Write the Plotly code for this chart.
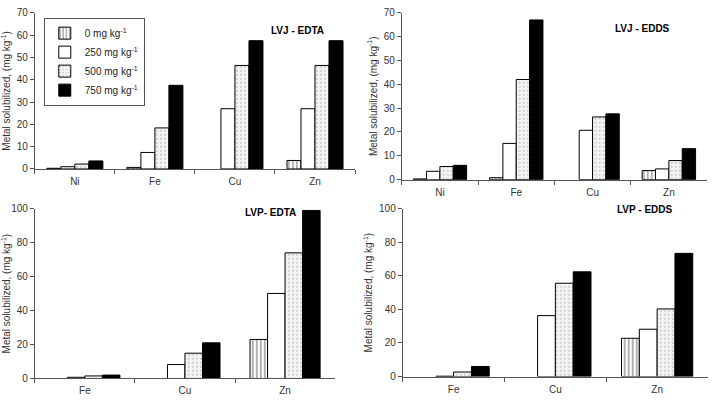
import plotly.graph_objects as go

dose_labels = ["0 mg kg<sup>-1</sup>", "250 mg kg<sup>-1</sup>",
               "500 mg kg<sup>-1</sup>", "750 mg kg<sup>-1</sup>"]

cats_lvj = ["Ni", "Fe", "Cu", "Zn"]
cats_lvp = ["Fe", "Cu", "Zn"]

# LVJ - EDTA
lvj_edta_0 = [0.3, 0.7, None, 3.8]
lvj_edta_250 = [1.0, 7.4, 27.0, 27.0]
lvj_edta_500 = [2.2, 18.4, 46.4, 46.4]
lvj_edta_750 = [3.6, 37.5, 57.5, 57.5]

# LVJ - EDDS
lvj_edds_0 = [0.3, 0.8, None, 3.8]
lvj_edds_250 = [3.5, 15.2, 20.7, 4.5]
lvj_edds_500 = [5.5, 42.0, 26.3, 8.0]
lvj_edds_750 = [6.0, 67.0, 27.6, 13.0]

# LVP - EDTA
lvp_edta_0 = [None, None, 23.0]
lvp_edta_250 = [0.7, 8.2, 50.1]
lvp_edta_500 = [1.5, 14.9, 74.0]
lvp_edta_750 = [2.0, 21.0, 99.0]

# LVP - EDDS
lvp_edds_0 = [None, None, 22.8]
lvp_edds_250 = [0.2, 36.3, 28.2]
lvp_edds_500 = [2.7, 55.6, 40.3]
lvp_edds_750 = [6.0, 62.4, 73.4]

panel_titles = ["<b>LVJ - EDTA</b>", "<b>LVJ - EDDS</b>", "<b>LVP- EDTA</b>", "<b>LVP - EDDS</b>"]
y_title = "Metal solubilized, (mg kg<sup>-1</sup>)"

FONT = "Arial, Liberation Sans, sans-serif"

styles = [
    dict(color="white", line=dict(color="black", width=1),
         pattern=dict(shape="|", fgcolor="black", bgcolor="white", size=4, solidity=0.3)),
    dict(color="white", line=dict(color="black", width=1)),
    dict(color="#eeeeee", line=dict(color="black", width=1),
         pattern=dict(shape=".", fgcolor="#999999", bgcolor="#f4f4f4", size=4, solidity=0.22)),
    dict(color="black", line=dict(color="black", width=1)),
]

panels = [
    (cats_lvj, [lvj_edta_0, lvj_edta_250, lvj_edta_500, lvj_edta_750]),
    (cats_lvj, [lvj_edds_0, lvj_edds_250, lvj_edds_500, lvj_edds_750]),
    (cats_lvp, [lvp_edta_0, lvp_edta_250, lvp_edta_500, lvp_edta_750]),
    (cats_lvp, [lvp_edds_0, lvp_edds_250, lvp_edds_500, lvp_edds_750]),
]

fig = go.Figure()
for p, (cats, series) in enumerate(panels):
    xa = "x" if p == 0 else f"x{p+1}"
    ya = "y" if p == 0 else f"y{p+1}"
    for s, vals in enumerate(series):
        fig.add_trace(go.Bar(
            x=cats, y=vals, name=dose_labels[s], marker=styles[s],
            xaxis=xa, yaxis=ya, showlegend=(p == 0), legendgroup=str(s),
        ))

W, H = 713, 400
def px_x(v): return v / W
def px_y(v): return 1 - v / H

# domains from pixel geometry
doms = [
    ((31, 353), (168, 7), [0, 70], 10),
    ((400, 707), (179, 7), [0, 70], 10),
    ((31, 333), (384, 209), [0, 100], 20),
    ((401, 708), (382, 209), [0, 100], 20),
]

layout = dict(
    width=W, height=H, margin=dict(l=0, r=0, t=0, b=0),
    paper_bgcolor="white", plot_bgcolor="white",
    barmode="group", bargap=0.3, bargroupgap=0,
    font=dict(family=FONT, size=10, color="#333333"),
    legend=dict(x=px_x(40), y=px_y(12), xanchor="left", yanchor="top",
                bordercolor="#555555", borderwidth=1, bgcolor="white",
                font=dict(size=10, color="#222222"), tracegroupgap=0,
                itemwidth=30),
    annotations=[],
)

title_pos = [(295, 18), (672, 15), (268, 213), (675, 210)]
for p, ((x0, x1), (yb, yt), yr, dt) in enumerate(doms):
    k = "" if p == 0 else str(p + 1)
    layout["xaxis" + k] = dict(
        domain=[px_x(x0), px_x(x1)], anchor="y" + k,
        showline=True, linecolor="#555555", linewidth=1,
        ticks="outside", tickson="boundaries", ticklen=4, tickcolor="#555555",
        showgrid=False, tickfont=dict(size=10, color="#333333"), fixedrange=True,
        ticklabelstandoff=3,
    )
    layout["yaxis" + k] = dict(
        domain=[px_y(yb), px_y(yt)], anchor="x" + k, range=yr, dtick=dt,
        showline=True, linecolor="#555555", linewidth=1,
        ticks="outside", ticklen=4, tickcolor="#555555",
        showgrid=False, zeroline=False, tickfont=dict(size=10, color="#333333"),
        title=dict(text=y_title, font=dict(size=10, color="#333333"), standoff=4),
    )
    tx, ty = title_pos[p]
    layout["annotations"].append(dict(
        text=panel_titles[p], x=px_x(tx), y=px_y(ty), xref="paper", yref="paper",
        showarrow=False, font=dict(size=10, color="black"),
    ))

fig.update_layout(**layout)
fig.write_html("out.html")
